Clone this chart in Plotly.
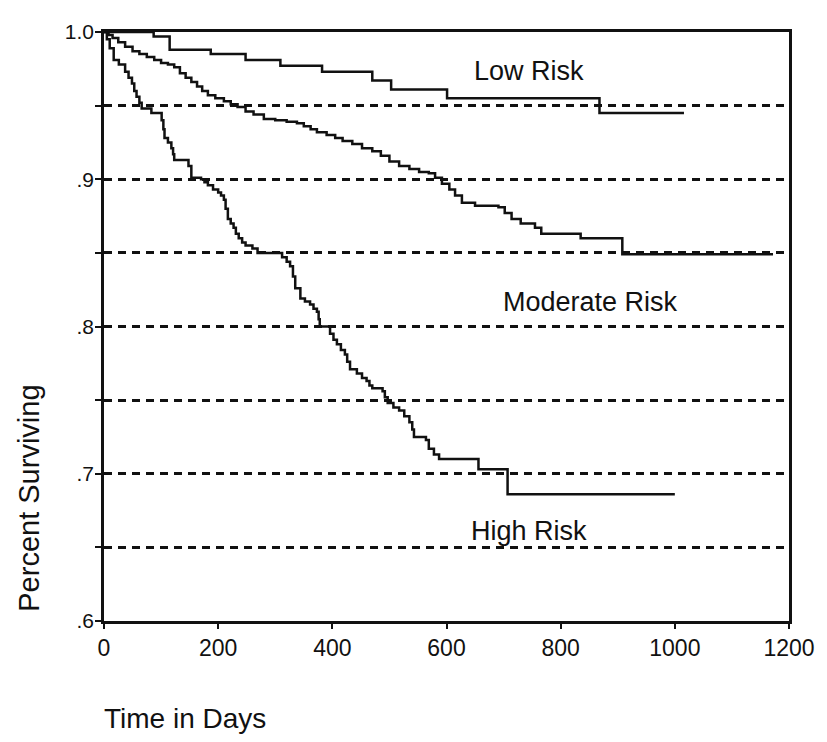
import plotly.graph_objects as go

# Kaplan-Meier style step data
low_days = [0, 87, 115, 187, 248, 309, 382, 470, 503, 601, 868, 1016]
low_surv = [1.0, 0.997, 0.988, 0.985, 0.981, 0.977, 0.973, 0.967, 0.961, 0.955, 0.945, 0.945]

mod_days = [0, 8, 15, 25, 37, 50, 62, 75, 88, 100, 112, 123, 133, 143, 153, 163, 172, 182,
            195, 210, 222, 234, 248, 262, 280, 300, 320, 338, 350, 362, 373, 390, 405, 418,
            435, 452, 470, 485, 500, 517, 535, 552, 569, 580, 592, 605, 615, 627, 650, 691,
            702, 714, 730, 755, 766, 835, 908, 1172]
mod_surv = [1.0, 0.998, 0.996, 0.993, 0.990, 0.987, 0.985, 0.983, 0.981, 0.979, 0.978, 0.976,
            0.972, 0.969, 0.966, 0.963, 0.960, 0.957, 0.955, 0.953, 0.951, 0.949, 0.946, 0.944,
            0.941, 0.940, 0.939, 0.938, 0.936, 0.934, 0.932, 0.930, 0.928, 0.926, 0.924, 0.921,
            0.919, 0.916, 0.912, 0.909, 0.907, 0.905, 0.904, 0.901, 0.897, 0.893, 0.889, 0.884,
            0.882, 0.881, 0.877, 0.873, 0.870, 0.867, 0.863, 0.860, 0.849, 0.849]

high_days = [0, 5, 10, 17, 26, 37, 43, 49, 53, 57, 62, 66, 83, 101, 104, 106, 112, 118, 121,
             123, 148, 153, 170, 176, 182, 191, 200, 205, 210, 213, 217, 222, 227, 231, 236,
             242, 248, 260, 269, 312, 320, 326, 331, 335, 344, 352, 361, 367, 373, 376, 378,
             396, 402, 408, 415, 422, 426, 431, 443, 452, 460, 465, 470, 488, 492, 497, 507,
             517, 526, 535, 540, 543, 564, 569, 578, 587, 656, 707, 1000]
high_surv = [1.0, 0.995, 0.989, 0.981, 0.978, 0.973, 0.969, 0.965, 0.960, 0.956, 0.952, 0.948,
             0.945, 0.940, 0.934, 0.928, 0.925, 0.921, 0.917, 0.913, 0.909, 0.901, 0.900, 0.898,
             0.896, 0.893, 0.891, 0.889, 0.886, 0.880, 0.873, 0.870, 0.867, 0.863, 0.860, 0.857,
             0.855, 0.853, 0.850, 0.847, 0.844, 0.841, 0.834, 0.826, 0.819, 0.817, 0.815, 0.812,
             0.810, 0.805, 0.800, 0.795, 0.791, 0.788, 0.784, 0.781, 0.776, 0.771, 0.768, 0.765,
             0.763, 0.760, 0.758, 0.756, 0.752, 0.748, 0.745, 0.743, 0.739, 0.735, 0.730, 0.725,
             0.723, 0.717, 0.713, 0.710, 0.703, 0.686, 0.686]

x_ticks = [0, 200, 400, 600, 800, 1000, 1200]
y_ticks = [0.6, 0.7, 0.8, 0.9, 1.0]
y_tick_labels = [".6", ".7", ".8", ".9", "1.0"]

group_labels = ["Low Risk", "Moderate Risk", "High Risk"]
label_days = [744, 852, 744]
label_surv = [0.9733, 0.8164, 0.661]

FONT = "Liberation Sans, Arial, Helvetica, sans-serif"
INK = "#111111"

fig = go.Figure()
for d, s, name in [(low_days, low_surv, "Low Risk"),
                   (mod_days, mod_surv, "Moderate Risk"),
                   (high_days, high_surv, "High Risk")]:
    fig.add_trace(go.Scatter(x=d, y=s, mode="lines", name=name,
                             line=dict(shape="hv", color=INK, width=2.5),
                             showlegend=False, hoverinfo="x+y+name"))

for t, x, y in zip(group_labels, label_days, label_surv):
    fig.add_annotation(x=x, y=y, xref="x", yref="y", text=t, showarrow=False,
                       font=dict(family=FONT, size=27, color=INK))

fig.add_annotation(text="Percent Surviving", xref="paper", yref="paper",
                   x=-0.11, y=0.2087, textangle=-90, showarrow=False,
                   xanchor="center", yanchor="middle",
                   font=dict(family=FONT, size=29, color=INK))
fig.add_annotation(text="Time in Days", xref="paper", yref="paper",
                   x=-0.003, y=-0.165, showarrow=False,
                   xanchor="left", yanchor="middle",
                   font=dict(family=FONT, size=28, color=INK))

fig.update_xaxes(range=[0, 1200], tickvals=x_ticks, ticktext=[str(v) for v in x_ticks],
                 showgrid=False, zeroline=False, showline=True, mirror=True,
                 linecolor=INK, linewidth=2.5, ticks="outside", ticklen=5, tickwidth=2,
                 tickcolor=INK, tickfont=dict(family=FONT, size=23, color=INK))
fig.update_yaxes(range=[0.6, 1.0], tickvals=y_ticks, ticktext=y_tick_labels,
                 showgrid=True, gridcolor=INK, gridwidth=2.5, griddash="8px,6px",
                 zeroline=False, showline=True, mirror=True,
                 linecolor=INK, linewidth=2.5, ticks="outside", ticklen=6, tickwidth=2,
                 tickcolor=INK, tickfont=dict(family=FONT, size=21, color=INK),
                 ticklabelstandoff=-3,
                 minor=dict(dtick=0.05, tick0=0.65, showgrid=True, gridcolor=INK,
                            gridwidth=2.5, griddash="8px,6px", ticks="outside",
                            ticklen=6, tickwidth=2, tickcolor=INK))

# the page adds an 8px body margin, so the figure is sized to fit inside the window
fig.update_layout(width=819, height=734, margin=dict(l=96, r=35, t=14, b=121),
                  paper_bgcolor="white", plot_bgcolor="white")

fig.write_html("out.html")
